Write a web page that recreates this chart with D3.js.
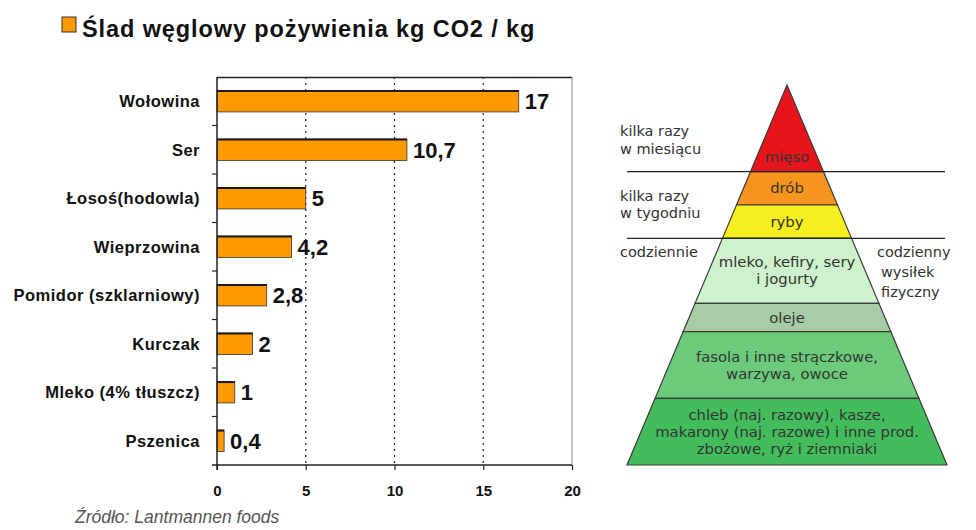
<!DOCTYPE html>
<html lang="pl">
<head>
<meta charset="UTF-8">
<title>Ślad węglowy pożywienia</title>
<script src="https://cdn.jsdelivr.net/npm/d3@7"></script>
<style>
  body { margin: 0; background: #fff; }
  svg { display: block; font-family: "Liberation Sans", Arial, sans-serif; }
  .cat { font-size: 16.5px; font-weight: bold; fill: #111; letter-spacing: 0.5px; }
  .val { font-size: 22px; font-weight: bold; fill: #111; }
  .tick text { font-size: 15px; font-weight: bold; fill: #111; }
  .pyr { font-family: "DejaVu Sans", Verdana, sans-serif; font-size: 14.8px; fill: #333; }
  .side { font-family: "DejaVu Sans", Verdana, sans-serif; font-size: 14.5px; fill: #333; }
</style>
</head>
<body>
<svg width="976" height="530"></svg>
<script>
// bar chart data
var foods = ["Wołowina", "Ser", "Łosoś(hodowla)", "Wieprzowina", "Pomidor (szklarniowy)", "Kurczak", "Mleko (4% tłuszcz)", "Pszenica"];
var co2 = [17, 10.7, 5, 4.2, 2.8, 2, 1, 0.4];
var xTicks = [0, 5, 10, 15, 20];

// pyramid data, top to bottom
var layerNames = ["mięso", "drób", "ryby", "mleko", "oleje", "fasola", "chleb"];
var layerLines = [
  ["mięso"],
  ["drób"],
  ["ryby"],
  ["mleko, kefiry, sery", "i jogurty"],
  ["oleje"],
  ["fasola i inne strączkowe,", "warzywa, owoce"],
  ["chleb (naj. razowy), kasze,", "makarony (naj. razowe) i inne prod.", "zbożowe, ryż i ziemniaki"]
];
var layerSize = [2.6, 1, 1, 1.95, 0.85, 2, 2];
var layerColors = ["#e8141b", "#f7941e", "#f6ee1f", "#cdf2cc", "#a7cca6", "#6ccb7a", "#43bd5c"];
var freqGroups = [["kilka razy", "w miesiącu"], ["kilka razy", "w tygodniu"], ["codziennie"]];
var freqEnd = [1, 3, 7]; // groups end after these layers
var sideNote = ["codzienny", "wysiłek", "fizyczny"];

var svg = d3.select("svg");

// title
svg.append("rect").attr("x", 62).attr("y", 17).attr("width", 14).attr("height", 15)
  .attr("fill", "#ff9900").attr("stroke", "#333").attr("stroke-width", 1);
svg.append("text").attr("x", 82).attr("y", 37)
  .attr("font-size", 23.5).attr("font-weight", "bold").attr("fill", "#111")
  .attr("letter-spacing", 0.9)
  .text("Ślad węglowy pożywienia kg CO2 / kg");

// bar chart
var mLeft = 217, mRight = 572, mTop = 77, mBottom = 465;
var x = d3.scaleLinear().domain([0, 20]).range([mLeft, mRight]);
var y = d3.scaleBand().domain(foods).range([mTop, mBottom]).paddingInner(0.56).paddingOuter(0.28);
var yStep = y.step();

var g = svg.append("g");

// dotted grid
g.selectAll(".grid").data(xTicks.slice(1, -1)).enter().append("line")
  .attr("x1", d => x(d)).attr("x2", d => x(d)).attr("y1", mTop).attr("y2", mBottom)
  .attr("stroke", "#222").attr("stroke-width", 1.2).attr("stroke-dasharray", "2,4");
// frame top/right
g.append("line").attr("x1", mLeft).attr("x2", mRight).attr("y1", mTop + 0.5).attr("y2", mTop + 0.5)
  .attr("stroke", "#222").attr("stroke-width", 1.5);
g.append("line").attr("x1", mRight).attr("x2", mRight).attr("y1", mTop).attr("y2", mBottom)
  .attr("stroke", "#888").attr("stroke-width", 1);

// bars
g.selectAll(".bar").data(foods).enter().append("rect")
  .attr("x", x(0)).attr("y", d => y(d))
  .attr("width", (d, i) => x(co2[i]) - x(0)).attr("height", y.bandwidth())
  .attr("fill", "#ff9900").attr("stroke", "#333").attr("stroke-width", 0.8);
g.selectAll(".bartop").data(foods).enter().append("line")
  .attr("x1", x(0)).attr("x2", (d, i) => x(co2[i]))
  .attr("y1", d => y(d) + 0.5).attr("y2", d => y(d) + 0.5)
  .attr("stroke", "#1a1a1a").attr("stroke-width", 2);

// value labels
g.selectAll(".val").data(foods).enter().append("text").attr("class", "val")
  .attr("x", (d, i) => x(co2[i]) + 6).attr("y", d => y(d) + y.bandwidth() / 2 + 8)
  .text((d, i) => String(co2[i]).replace(".", ","));

// category labels
g.selectAll(".cat").data(foods).enter().append("text").attr("class", "cat")
  .attr("x", 200).attr("y", d => y(d) + y.bandwidth() / 2 + 6)
  .attr("text-anchor", "end").text(d => d);

// left axis with ticks at category boundaries
g.append("line").attr("x1", mLeft).attr("x2", mLeft).attr("y1", mTop).attr("y2", mBottom + 5)
  .attr("stroke", "#222").attr("stroke-width", 1.5);
g.selectAll(".ytick").data(d3.range(1, foods.length)).enter().append("line")
  .attr("x1", mLeft - 5).attr("x2", mLeft).attr("y1", d => mTop + d * yStep).attr("y2", d => mTop + d * yStep)
  .attr("stroke", "#222").attr("stroke-width", 1.2);

// bottom axis
var xAxis = g.append("g").attr("transform", "translate(0," + mBottom + ")")
  .call(d3.axisBottom(x).tickValues(xTicks).tickSize(5).tickPadding(15));
xAxis.attr("font-family", null).attr("font-size", null);
xAxis.select(".domain").attr("stroke", "#222").attr("stroke-width", 1.5)
  .attr("d", "M" + (mLeft - 5) + ",0H" + mRight);
xAxis.selectAll(".tick line").attr("stroke", "#222").attr("stroke-width", 1.2);

// source
svg.append("text").attr("x", 75).attr("y", 523).attr("font-size", 17.5)
  .attr("font-style", "italic").attr("fill", "#555").text("Źródło: Lantmannen foods");

// pyramid
var apexX = 787, apexY = 85, baseY = 465, halfBase = 160;
var cum = [0];
layerSize.forEach(function (s, i) { cum.push(cum[i] + s); });
var py = d3.scaleLinear().domain([0, cum[cum.length - 1]]).range([apexY, baseY]);
var half = d3.scaleLinear().domain([apexY, baseY]).range([0, halfBase]);

var pg = svg.append("g");
pg.selectAll(".layer").data(layerNames).enter().append("path")
  .attr("d", function (d, i) {
    var y0 = py(cum[i]), y1 = py(cum[i + 1]);
    return "M" + (apexX - half(y0)) + "," + y0 + "L" + (apexX + half(y0)) + "," + y0 +
      "L" + (apexX + half(y1)) + "," + y1 + "L" + (apexX - half(y1)) + "," + y1 + "Z";
  })
  .attr("fill", (d, i) => layerColors[i]).attr("stroke", "#3a3a3a").attr("stroke-width", 1.2);

// separator lines between frequency groups
pg.selectAll(".sep").data(freqEnd.slice(0, -1)).enter().append("line")
  .attr("x1", 627).attr("x2", 945).attr("y1", d => py(cum[d])).attr("y2", d => py(cum[d]))
  .attr("stroke", "#222").attr("stroke-width", 1.2);

// layer labels
layerLines.forEach(function (lines, i) {
  var mid = (py(cum[i]) + py(cum[i + 1])) / 2;
  var lh = 17;
  var off = i === 0 ? 29 : 0;
  lines.forEach(function (t, j) {
    pg.append("text").attr("class", "pyr").attr("text-anchor", "middle")
      .attr("x", apexX).attr("y", mid + off + (j - (lines.length - 1) / 2) * lh + 5)
      .attr("fill", i === 0 ? "#8a1010" : "#333").text(t);
  });
});

// frequency labels
var freqY = [[136, 154], [201, 218], [257]];
freqGroups.forEach(function (lines, i) {
  lines.forEach(function (t, j) {
    pg.append("text").attr("class", "side").attr("x", 620).attr("y", freqY[i][j]).text(t);
  });
});
sideNote.forEach(function (t, j) {
  pg.append("text").attr("class", "side").attr("x", j === 0 ? 877 : 881)
    .attr("y", 257 + j * 20).attr("font-size", j === 0 ? 14.5 : 13.5).text(t);
});
</script>
</body>
</html>
